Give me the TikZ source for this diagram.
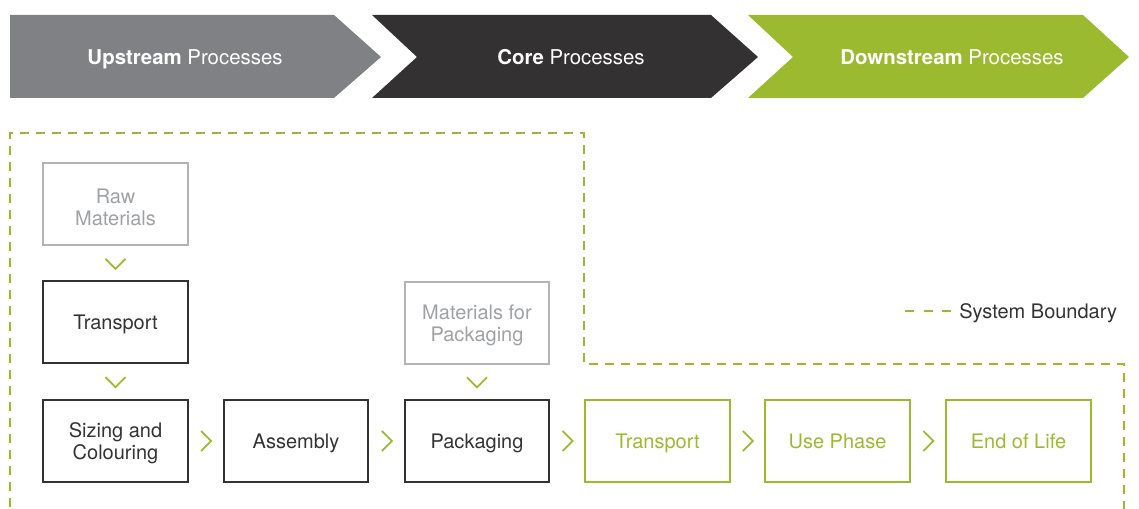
\documentclass[tikz,border=0pt]{standalone}
\usepackage{fontspec}
\setmainfont{TeX Gyre Heros}
\definecolor{cgray}{HTML}{808184}
\definecolor{cdark}{HTML}{333132}
\definecolor{cgreen}{HTML}{9CBA2F}
\definecolor{clight}{HTML}{B1B3B6}
\definecolor{ctext}{HTML}{333333}
\newcommand{\twol}[2]{\raisebox{-2pt}[\height][\depth]{\parbox{100pt}{\centering #1\\#2}}}
\begin{document}
\begin{tikzpicture}[x=0.75pt,y=-0.75pt,
  txt/.style={font=\fontsize{15}{16.5}\selectfont, align=center, text height=10.8pt, text depth=0pt},
  twoline/.style={text height=, text depth=},
  box/.style={txt, draw, line width=1.5pt, minimum width=108.5pt, minimum height=61.5pt, inner sep=0pt},
  rawbox/.style={box, draw=clight, text=clight!90!black},
  corebox/.style={box, draw=cdark, text=ctext},
  downbox/.style={box, draw=cgreen, text=cgreen},
  chev/.style={draw=cgreen, line width=1.4pt, fill=none},
  bound/.style={draw=cgreen, line width=1.5pt, dash pattern=on 6.5pt off 5.5pt},
  head/.style={font=\fontsize{15.3}{17}\selectfont, text=white, text height=11pt, text depth=0pt}
]
\useasboundingbox (0,0) rectangle (1139,509);
% header chevrons
\fill[cgray] (10,15) -- (334,15) -- (381,57) -- (334,98) -- (10,98) -- cycle;
\fill[cdark] (372,15) -- (711,15) -- (758,57) -- (711,98) -- (372,98) -- (417,57) -- cycle;
\fill[cgreen] (748,15) -- (1083,15) -- (1129,57) -- (1083,98) -- (748,98) -- (793,57) -- cycle;
\node[head] (hup) at (185,57) {\textbf{Upstream} Processes};
\node[head] (hcore) at (571,57) {\textbf{Core} Processes};
\node[head] (hdown) at (952,57) {\textbf{Downstream} Processes};
% system boundary
\draw[bound] (10,507) -- (10,133) -- (584,133) -- (584,364) -- (1124,364) -- (1124,509);
% legend
\coordinate (lg1) at (905,311);
\coordinate (lg2) at (951,311);
\draw[draw=cgreen, line width=1.5pt, dash pattern=on 7pt off 7pt] (lg1) -- (lg2);
\node[txt, text=ctext, anchor=west, inner sep=0pt] (legend) at (959,311) {System Boundary};
% boxes
\node[rawbox, twoline] (raw) at (115.5,204.5) {\twol{Raw}{Materials}};
\node[corebox] (tr1) at (115.5,322.5) {Transport};
\node[corebox, twoline] (siz) at (115.5,441) {\twol{Sizing and}{Colouring}};
\node[corebox] (ass) at (296,441) {Assembly};
\node[corebox] (pac) at (477,441) {Packaging};
\node[rawbox, twoline] (mat) at (477,323) {\twol{Materials for}{Packaging}};
\node[downbox] (tr2) at (657.5,441) {Transport};
\node[downbox] (use) at (837.5,441) {Use Phase};
\node[downbox] (eol) at (1018.5,441) {End of Life};
% down chevrons
\foreach \a/\b/\n in {raw/tr1/d1, tr1/siz/d2, mat/pac/d3}{
  \path (\a.south) -- (\b.north) coordinate[midway] (\n);
  \draw[chev] ([xshift=-7.5pt,yshift=3.5pt]\n) -- ([yshift=-4pt]\n) -- ([xshift=7.5pt,yshift=3.5pt]\n);
}
% right chevrons
\foreach \a/\b/\n in {siz/ass/r1, ass/pac/r2, pac/tr2/r3, tr2/use/r4, use/eol/r5}{
  \path (\a.east) -- (\b.west) coordinate[midway] (\n);
  \draw[chev] ([xshift=-3.5pt,yshift=7.5pt]\n) -- ([xshift=4pt]\n) -- ([xshift=-3.5pt,yshift=-7.5pt]\n);
}
\end{tikzpicture}
\end{document}
